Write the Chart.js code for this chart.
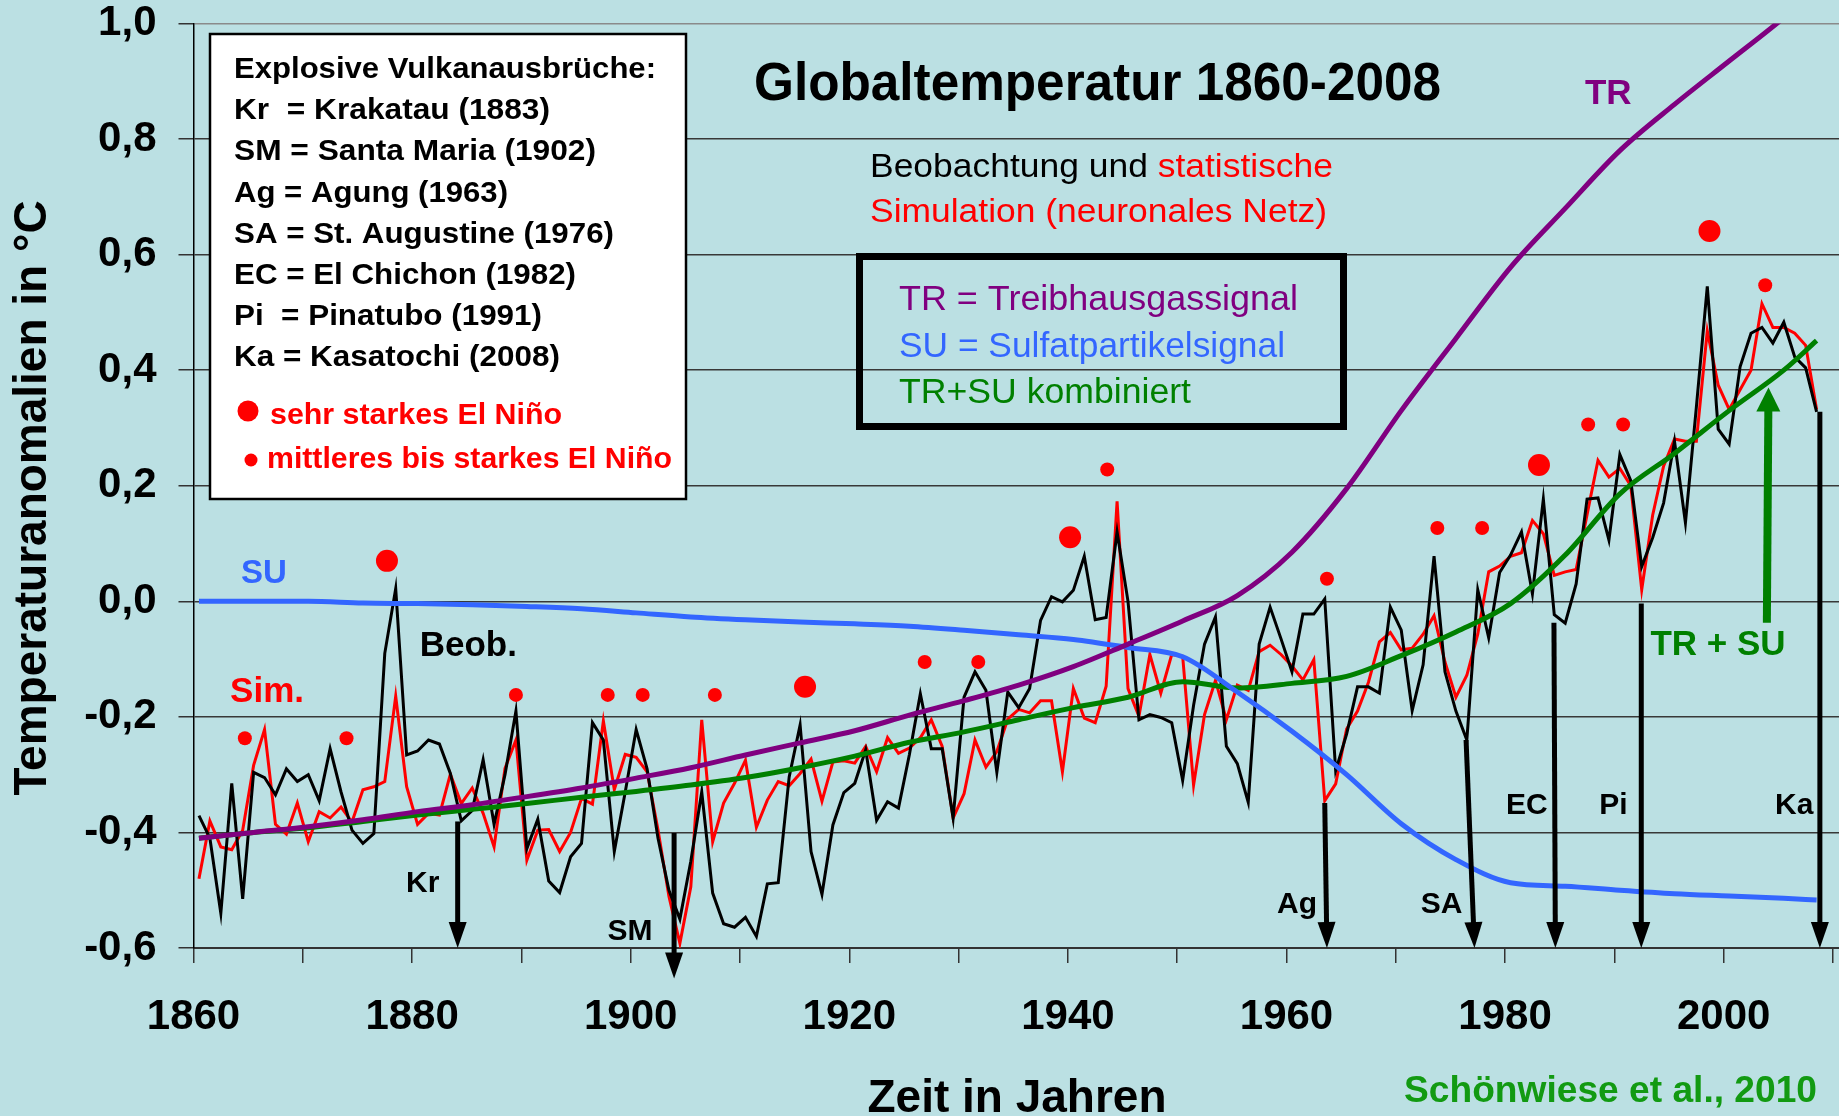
<!DOCTYPE html>
<html>
<head>
<meta charset="utf-8">
<script src="https://cdn.jsdelivr.net/npm/chart.js@4.4.1/dist/chart.umd.min.js"></script>
<style>
  html, body { margin: 0; padding: 0; background: #bbe0e3; }
  canvas { display: block; }
</style>
</head>
<body>
<canvas id="c" width="1839" height="1116"></canvas>
<script>
// annual values 1860-2008
const firstYear = 1860;
const obs = [
  -0.371, -0.41, -0.54, -0.315, -0.515, -0.296, -0.305, -0.335, -0.29, -0.312,
  -0.30, -0.345, -0.255, -0.33, -0.396, -0.419, -0.402, -0.09, 0.022, -0.266,
  -0.259, -0.24, -0.247, -0.298, -0.38, -0.362, -0.274, -0.386, -0.30, -0.19,
  -0.428, -0.377, -0.484, -0.504, -0.442, -0.419, -0.21, -0.24, -0.433, -0.33,
  -0.222, -0.29, -0.41, -0.50, -0.55, -0.45, -0.33, -0.505, -0.558, -0.564,
  -0.547, -0.58, -0.489, -0.487, -0.304, -0.214, -0.433, -0.507, -0.387, -0.331,
  -0.315, -0.257, -0.379, -0.347, -0.358, -0.265, -0.16, -0.255, -0.255, -0.375,
  -0.166, -0.122, -0.154, -0.296, -0.157, -0.184, -0.151, -0.033, 0.008, -0.001,
  0.019, 0.078, -0.032, -0.028, 0.12, 0.0, -0.205, -0.196, -0.201, -0.21,
  -0.31, -0.18, -0.074, -0.027, -0.251, -0.281, -0.348, -0.074, -0.01, -0.065,
  -0.122, -0.022, -0.022, 0.004, -0.293, -0.23, -0.148, -0.148, -0.159, -0.01,
  -0.05, -0.189, -0.11, 0.078, -0.122, -0.19, -0.24, 0.02, -0.063, 0.05,
  0.08, 0.12, 0.013, 0.177, -0.023, -0.038, 0.03, 0.177, 0.179, 0.106,
  0.254, 0.209, 0.06, 0.11, 0.17, 0.277, 0.136, 0.336, 0.545, 0.298,
  0.272, 0.406, 0.464, 0.474, 0.447, 0.483, 0.423, 0.404, 0.328
];
const sim = [
  -0.48, -0.38, -0.425, -0.43, -0.396, -0.284, -0.222, -0.386, -0.403, -0.349,
  -0.416, -0.364, -0.375, -0.356, -0.382, -0.326, -0.321, -0.312, -0.164, -0.321,
  -0.386, -0.367, -0.37, -0.299, -0.35, -0.323, -0.367, -0.425, -0.289, -0.24,
  -0.448, -0.396, -0.395, -0.433, -0.40, -0.341, -0.351, -0.207, -0.326, -0.265,
  -0.27, -0.295, -0.396, -0.511, -0.592, -0.494, -0.205, -0.416, -0.349, -0.315,
  -0.275, -0.391, -0.344, -0.312, -0.319, -0.298, -0.273, -0.346, -0.278, -0.276,
  -0.28, -0.251, -0.295, -0.236, -0.263, -0.254, -0.236, -0.205, -0.251, -0.375,
  -0.333, -0.24, -0.287, -0.26, -0.204, -0.187, -0.193, -0.172, -0.172, -0.295,
  -0.151, -0.202, -0.21, -0.147, 0.173, -0.151, -0.199, -0.092, -0.159, -0.092,
  -0.095, -0.318, -0.196, -0.137, -0.205, -0.145, -0.154, -0.087, -0.076, -0.092,
  -0.112, -0.136, -0.101, -0.345, -0.316, -0.221, -0.19, -0.14, -0.07, -0.054,
  -0.084, -0.081, -0.057, -0.025, -0.105, -0.166, -0.128, -0.057, 0.051, 0.061,
  0.078, 0.084, 0.14, 0.117, 0.045, 0.051, 0.055, 0.15, 0.244, 0.215,
  0.23, 0.2, 0.02, 0.149, 0.234, 0.281, 0.277, 0.277, 0.468, 0.374,
  0.332, 0.366, 0.40, 0.515, 0.474, 0.474, 0.464, 0.443, 0.332
];

// signal curves, read every 5 years
const sigYears = [1860, 1865, 1870, 1875, 1880, 1885, 1890, 1895, 1900, 1905, 1910,
  1915, 1920, 1925, 1930, 1935, 1940, 1945, 1950, 1955, 1960, 1965, 1970, 1975,
  1980, 1985, 1990, 1995, 2000, 2005, 2008];
const tr = [-0.41, -0.40, -0.39, -0.378, -0.364, -0.352, -0.338, -0.323, -0.306, -0.288, -0.266,
  -0.245, -0.224, -0.197, -0.172, -0.145, -0.113, -0.074, -0.034, 0.01, 0.085, 0.195, 0.33, 0.455,
  0.578, 0.68, 0.78, 0.86, 0.935, 1.01, 1.06];
const su = [0, 0, 0, -0.003, -0.004, -0.006, -0.009, -0.013, -0.02, -0.027, -0.032,
  -0.036, -0.039, -0.043, -0.05, -0.058, -0.066, -0.08, -0.096, -0.157, -0.225, -0.30, -0.385, -0.447,
  -0.487, -0.493, -0.50, -0.506, -0.51, -0.514, -0.517];
const trsu = [-0.41, -0.40, -0.392, -0.381, -0.37, -0.36, -0.35, -0.339, -0.329, -0.318, -0.305,
  -0.288, -0.268, -0.244, -0.226, -0.205, -0.184, -0.166, -0.139, -0.15, -0.142, -0.13, -0.094, -0.053,
  -0.004, 0.08, 0.186, 0.256, 0.33, 0.40, 0.451];

// El Nino markers
const ninoBigYear = [1877.2, 1915.45, 1939.7, 1982.6, 1998.2];
const ninoBigVal = [0.07, -0.148, 0.111, 0.236, 0.641];
const ninoSmallYear = [1864.2, 1873.5, 1889.0, 1897.4, 1900.6, 1907.2, 1926.4, 1931.3, 1943.1,
  1963.2, 1973.3, 1977.4, 1987.1, 1990.3, 2003.3];
const ninoSmallVal = [-0.237, -0.237, -0.162, -0.162, -0.162, -0.162, -0.105, -0.105, 0.228,
  0.039, 0.127, 0.127, 0.306, 0.306, 0.547];

// volcanic eruptions (arrows)
const volcName = ['Kr', 'SM', 'Ag', 'SA', 'EC', 'Pi', 'Ka'];
const volcTopYear = [1883.67, 1903.47, 1963.0, 1975.93, 1983.97, 1991.96, 2008.3];
const volcTopVal = [-0.381, -0.401, -0.349, -0.24, -0.037, -0.004, 0.328];
const volcTipYear = [1883.67, 1903.47, 1963.2, 1976.7, 1984.1, 1991.96, 2008.3];
const volcTipVal = [-0.6, -0.653, -0.6, -0.6, -0.6, -0.6, -0.6];
const volcLabelYear = [1882.0, 1901.5, 1962.3, 1975.6, 1983.4, 1990.7, 2007.7];
const volcLabelVal = [-0.488, -0.572, -0.525, -0.525, -0.353, -0.353, -0.353];

const seriesLabel = ['SU', 'Sim.', 'Beob.', 'TR', 'TR + SU'];
const seriesLabelYear = [1863.85, 1862.85, 1880.2, 1986.8, 1992.8];
const seriesLabelVal = [0.047, -0.157, -0.078, 0.877, -0.076];
const trsuArrowYear = [2003.45, 2003.6];
const trsuArrowVal = [-0.037, 0.37];

const yTicks = [-0.6, -0.4, -0.2, 0, 0.2, 0.4, 0.6, 0.8, 1.0];
const legendLines = [
  'Explosive Vulkanausbrüche:',
  'Kr  = Krakatau (1883)',
  'SM = Santa Maria (1902)',
  'Ag = Agung (1963)',
  'SA = St. Augustine (1976)',
  'EC = El Chichon (1982)',
  'Pi  = Pinatubo (1991)',
  'Ka = Kasatochi (2008)'
];

const FONT = '"Liberation Sans", Arial, sans-serif';
const BG = '#bbe0e3';
const RED = '#ff0000';
const PURPLE = '#800080';
const BLUE = '#3366ff';
const GREEN = '#008000';

const pts = (xs, ys) => xs.map((x, i) => ({ x: x, y: ys[i] }));
const annual = arr => arr.map((v, i) => ({ x: firstYear + i, y: v }));

function fitText(ctx, s, x, y, w) {
  const m = ctx.measureText(s).width;
  const k = w ? w / m : 1;
  ctx.save();
  ctx.translate(x, y);
  ctx.scale(k, 1);
  ctx.fillText(s, 0, 0);
  ctx.restore();
}

function arrow(ctx, x0, y0, x1, y1, lw, hw, hl, color) {
  const ang = Math.atan2(y1 - y0, x1 - x0);
  const len = Math.hypot(x1 - x0, y1 - y0);
  ctx.save();
  ctx.translate(x0, y0);
  ctx.rotate(ang);
  ctx.strokeStyle = color;
  ctx.fillStyle = color;
  ctx.lineWidth = lw;
  ctx.beginPath();
  ctx.moveTo(0, 0);
  ctx.lineTo(len - hl + 1, 0);
  ctx.stroke();
  ctx.beginPath();
  ctx.moveTo(len, 0);
  ctx.lineTo(len - hl, -hw / 2);
  ctx.lineTo(len - hl, hw / 2);
  ctx.closePath();
  ctx.fill();
  ctx.restore();
}

const decor = {
  id: 'decor',
  beforeDraw(chart) {
    const ctx = chart.ctx;
    ctx.save();
    ctx.fillStyle = BG;
    ctx.fillRect(0, 0, chart.width, chart.height);
    ctx.restore();
  },
  afterDatasetsDraw(chart) {
    const ctx = chart.ctx;
    const xs = chart.scales.x, ys = chart.scales.y;
    ctx.save();

    // volcano arrows + labels
    volcName.forEach((n, i) => {
      arrow(ctx, xs.getPixelForValue(volcTopYear[i]), ys.getPixelForValue(volcTopVal[i]),
        xs.getPixelForValue(volcTipYear[i]), ys.getPixelForValue(volcTipVal[i]), 5, 18, 26, '#000');
      ctx.fillStyle = '#000';
      ctx.font = 'bold 30px ' + FONT;
      ctx.textAlign = 'right';
      ctx.textBaseline = 'middle';
      ctx.fillText(n, xs.getPixelForValue(volcLabelYear[i]), ys.getPixelForValue(volcLabelVal[i]));
    });

    // green TR+SU arrow
    arrow(ctx, xs.getPixelForValue(trsuArrowYear[0]), ys.getPixelForValue(trsuArrowVal[0]),
      xs.getPixelForValue(trsuArrowYear[1]), ys.getPixelForValue(trsuArrowVal[1]), 8, 24, 24, GREEN);

    // series labels
    const labColors = [BLUE, RED, '#000', PURPLE, GREEN];
    seriesLabel.forEach((s, i) => {
      ctx.fillStyle = labColors[i];
      ctx.font = 'bold ' + (i === 0 ? 33 : 35) + 'px ' + FONT;
      ctx.textAlign = 'left';
      ctx.textBaseline = 'middle';
      ctx.fillText(s, xs.getPixelForValue(seriesLabelYear[i]), ys.getPixelForValue(seriesLabelVal[i]));
    });

    ctx.textAlign = 'left';
    ctx.textBaseline = 'alphabetic';

    // title
    ctx.fillStyle = '#000';
    ctx.font = 'bold 53px ' + FONT;
    fitText(ctx, 'Globaltemperatur 1860-2008', 754, 100, 687);

    // subtitle, two colours on first line
    ctx.font = '34px ' + FONT;
    const p1 = 'Beobachtung und ', p2 = 'statistische';
    const k1 = 463 / ctx.measureText(p1 + p2).width;
    ctx.save();
    ctx.translate(870, 177);
    ctx.scale(k1, 1);
    ctx.fillStyle = '#000';
    ctx.fillText(p1, 0, 0);
    ctx.fillStyle = RED;
    ctx.fillText(p2, ctx.measureText(p1).width, 0);
    ctx.restore();
    ctx.fillStyle = RED;
    fitText(ctx, 'Simulation (neuronales Netz)', 870, 222, 457);

    // signal legend box
    ctx.strokeStyle = '#000';
    ctx.lineWidth = 7;
    ctx.strokeRect(859.5, 256.5, 484, 170);
    ctx.font = '35px ' + FONT;
    ctx.fillStyle = PURPLE;
    fitText(ctx, 'TR = Treibhausgassignal', 899, 310, 399);
    ctx.fillStyle = BLUE;
    fitText(ctx, 'SU = Sulfatpartikelsignal', 899, 357, 386);
    ctx.fillStyle = GREEN;
    fitText(ctx, 'TR+SU kombiniert', 899, 403, 292);

    // volcano legend box
    ctx.fillStyle = '#fff';
    ctx.fillRect(210, 34, 476, 465);
    ctx.lineWidth = 2.5;
    ctx.strokeRect(210, 34, 476, 465);
    const lw = [422, 316, 362, 274, 380, 342, 308, 326];
    ctx.font = 'bold 30px ' + FONT;
    ctx.fillStyle = '#000';
    legendLines.forEach((s, i) => {
      fitText(ctx, s, 234, 78 + i * 41.2, lw[i]);
    });
    ctx.fillStyle = RED;
    ctx.beginPath();
    ctx.arc(248, 411, 10.5, 0, Math.PI * 2);
    ctx.fill();
    ctx.beginPath();
    ctx.arc(251, 460, 6.5, 0, Math.PI * 2);
    ctx.fill();
    fitText(ctx, 'sehr starkes El Niño', 270, 424, 292);
    fitText(ctx, 'mittleres bis starkes El Niño', 267, 468, 405);

    // axis titles
    ctx.fillStyle = '#000';
    ctx.font = 'bold 46px ' + FONT;
    ctx.textAlign = 'center';
    ctx.save();
    ctx.translate(33, 498);
    ctx.rotate(-Math.PI / 2);
    ctx.textBaseline = 'middle';
    fitText(ctx, 'Temperaturanomalien in °C', 0, 0, null);
    ctx.restore();
    fitText(ctx, 'Zeit in Jahren', 1017, 1112, null);

    ctx.textAlign = 'left';
    ctx.fillStyle = '#129a12';
    ctx.font = 'bold 37px ' + FONT;
    fitText(ctx, 'Schönwiese et al., 2010', 1404, 1102, 413);

    ctx.restore();
  }
};

new Chart(document.getElementById('c'), {
  type: 'line',
  data: {
    datasets: [
      { data: pts(ninoBigYear, ninoBigVal), showLine: false, pointRadius: 11, pointBackgroundColor: RED, pointBorderWidth: 0, order: 0 },
      { data: pts(ninoSmallYear, ninoSmallVal), showLine: false, pointRadius: 7, pointBackgroundColor: RED, pointBorderWidth: 0, order: 0 },
      { data: pts(sigYears, tr), borderColor: PURPLE, borderWidth: 5, pointRadius: 0, cubicInterpolationMode: 'monotone', order: 1, clip: 0 },
      { data: pts(sigYears, su), borderColor: BLUE, borderWidth: 5, pointRadius: 0, cubicInterpolationMode: 'monotone', order: 2 },
      { data: pts(sigYears, trsu), borderColor: GREEN, borderWidth: 5, pointRadius: 0, cubicInterpolationMode: 'monotone', order: 3 },
      { data: annual(obs), borderColor: '#000', borderWidth: 3, pointRadius: 0, order: 4 },
      { data: annual(sim), borderColor: RED, borderWidth: 3, pointRadius: 0, order: 5 }
    ]
  },
  options: {
    responsive: false,
    animation: false,
    devicePixelRatio: 1,
    layout: { autoPadding: false, padding: { top: 23.5, left: 0, right: 0, bottom: 0 } },
    plugins: { legend: { display: false }, tooltip: { enabled: false } },
    scales: {
      x: {
        type: 'linear',
        min: 1859.5,
        max: 2010.05,
        afterBuildTicks: s => {
          s.ticks = [];
          for (let v = 1859.5; v < 2010; v += 10) s.ticks.push({ value: v });
        },
        afterFit: s => {
          s.height = 168;
          s.paddingLeft = 0;
          s.paddingRight = 0;
        },
        ticks: {
          autoSkip: false,
          maxRotation: 0,
          padding: 29,
          color: '#000',
          font: { family: FONT, size: 42, weight: 'bold' },
          callback: v => ((v + 0.5 - 1860) % 20 === 0 ? String(v + 0.5) : '')
        },
        grid: { drawOnChartArea: false, drawTicks: true, tickLength: 15, color: '#333', lineWidth: 1.5 },
        border: { display: true, color: '#333', width: 2 }
      },
      y: {
        min: -0.6,
        max: 1.0,
        afterBuildTicks: s => { s.ticks = yTicks.map(v => ({ value: v })); },
        afterFit: s => {
          s.width = 193.5;
          s.paddingTop = 0;
          s.paddingBottom = 0;
        },
        ticks: {
          padding: 22,
          color: '#000',
          font: { family: FONT, size: 42, weight: 'bold' },
          callback: v => {
            const r = Math.round(v * 10) / 10;
            return (r < 0 ? '-' : '') + Math.abs(r).toFixed(1).replace('.', ',');
          }
        },
        grid: {
          color: c => (c.tick && c.tick.value > 0.99 ? '#8a8a8a' : '#383838'),
          tickColor: '#333',
          lineWidth: 1.5,
          tickLength: 15
        },
        border: { display: true, color: '#000', width: 1.5 }
      }
    }
  },
  plugins: [decor]
});
</script>
</body>
</html>
